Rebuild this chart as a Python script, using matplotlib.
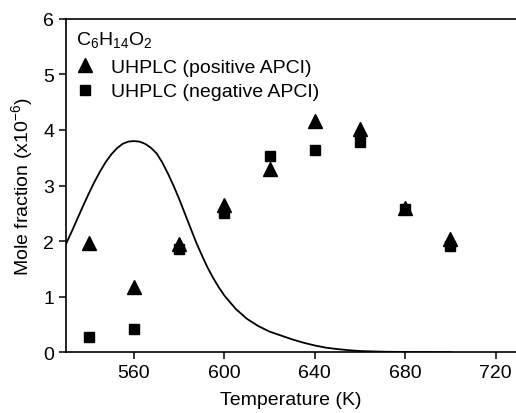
import matplotlib.pyplot as plt

plt.rcParams['font.family'] = ['Liberation Sans', 'DejaVu Sans']
plt.rcParams['mathtext.fontset'] = 'custom'
plt.rcParams['mathtext.rm'] = 'Liberation Sans'
plt.rcParams['mathtext.it'] = 'Liberation Sans'

# Model curve
temp_model = [530, 532.5, 535, 537.5, 540, 542.5, 545, 547.5, 550, 552.5, 555, 557.5,
              560, 562.5, 565, 567.5, 570, 572.5, 575, 577.5, 580, 582.5, 585, 587.5,
              590, 592.5, 595, 597.5, 600, 605, 610, 615, 620, 625, 630, 635, 640,
              645, 650, 655, 660, 670, 680, 690, 700]
frac_model = [1.95, 2.17, 2.40, 2.63, 2.85, 3.06, 3.25, 3.42, 3.56, 3.67, 3.75, 3.79,
              3.80, 3.79, 3.75, 3.68, 3.58, 3.42, 3.22, 3.00, 2.76, 2.50, 2.24, 1.98,
              1.75, 1.53, 1.34, 1.17, 1.02, 0.78, 0.60, 0.47, 0.37, 0.30, 0.23, 0.17,
              0.12, 0.08, 0.055, 0.035, 0.02, 0.008, 0.003, 0.0, 0.0]

# Measurements
temp_exp = [540, 560, 580, 600, 620, 640, 660, 680, 700]
pos_apci = [1.97, 1.17, 1.95, 2.65, 3.29, 4.17, 4.01, 2.60, 2.04]
neg_apci = [0.28, 0.42, 1.85, 2.50, 3.54, 3.64, 3.78, 2.58, 1.91]

fig = plt.figure(figsize=(5.16, 4.14), dpi=100)
ax = fig.add_axes([0.128, 0.147, 0.872, 0.805])

ax.plot(temp_model, frac_model, color='black', lw=1.3)
ax.plot(temp_exp, pos_apci, '^', color='black', ms=10, label='UHPLC (positive APCI)')
ax.plot(temp_exp, neg_apci, 's', color='black', ms=7.5, label='UHPLC (negative APCI)')

ax.set_xlim(530, 729)
ax.set_ylim(0, 6)
ax.set_xticks([560, 600, 640, 680, 720])
ax.set_yticks([0, 1, 2, 3, 4, 5, 6])
ax.tick_params(labelsize=14, width=1.1, length=5)
for s in ['left', 'bottom', 'top']:
    ax.spines[s].set_linewidth(1.2)
ax.spines['right'].set_visible(False)

ax.set_xlabel('Temperature (K)', fontsize=14, labelpad=7)
ax.set_ylabel(r'Mole fraction (x10$^{-6}$)', fontsize=14, labelpad=6)

leg = ax.legend(title=r'C$_6$H$_{14}$O$_2$', loc='upper left', frameon=False,
                fontsize=14, title_fontsize=14, handlelength=1.0, handletextpad=0.8,
                labelspacing=0.35, borderaxespad=0.2, borderpad=0.3, alignment='left')
leg._legend_box.sep = 7

fig.savefig('out.png', dpi=100)
